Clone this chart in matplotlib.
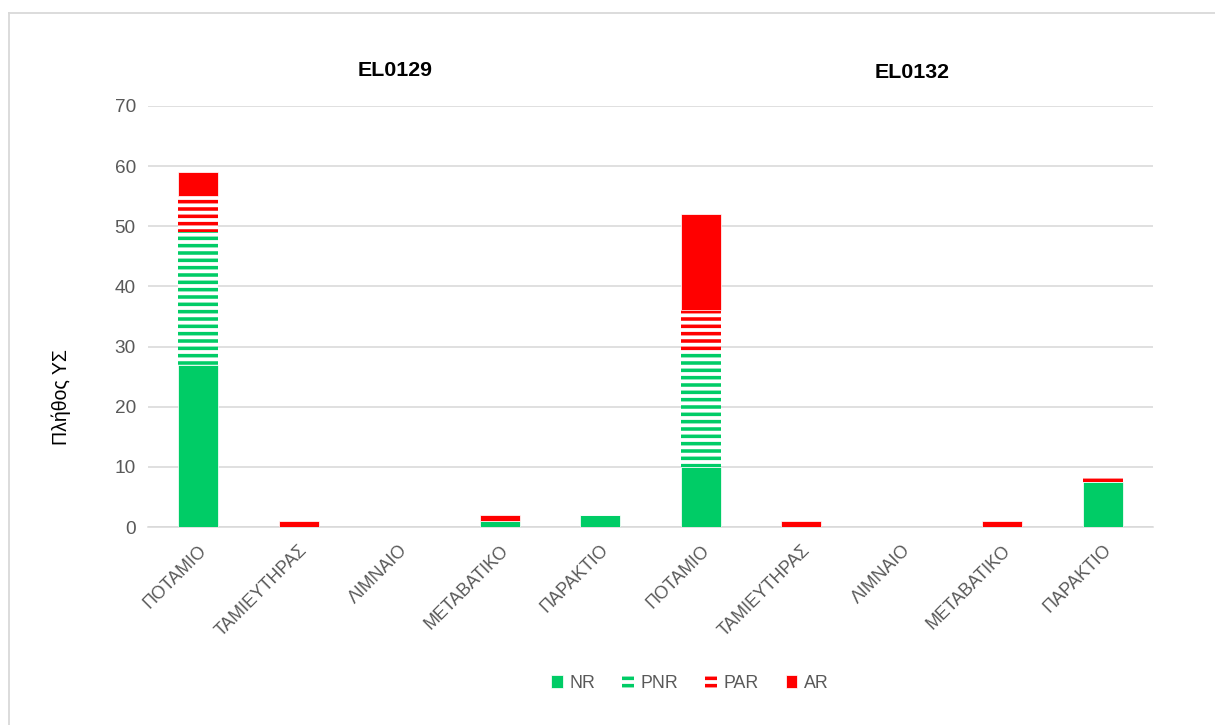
import matplotlib
matplotlib.use("Agg")
import matplotlib.pyplot as plt
import numpy as np
from matplotlib.lines import Line2D

# ---- data ----
categories = ['ΠΟΤΑΜΙΟ', 'ΤΑΜΙΕΥΤΗΡΑΣ', 'ΛΙΜΝΑΙΟ', 'ΜΕΤΑΒΑΤΙΚΟ', 'ΠΑΡΑΚΤΙΟ',
              'ΠΟΤΑΜΙΟ', 'ΤΑΜΙΕΥΤΗΡΑΣ', 'ΛΙΜΝΑΙΟ', 'ΜΕΤΑΒΑΤΙΚΟ', 'ΠΑΡΑΚΤΙΟ']
nr = [27, 0, 0, 1, 2, 10, 0, 0, 0, 7.5]
pnr = [22, 0, 0, 0, 0, 19, 0, 0, 0, 0]
par = [6, 0, 0, 0, 0, 7, 0, 0, 0, 1]
ar = [4, 1, 0, 1, 0, 16, 1, 0, 1, 0]
group_titles = ['EL0129', 'EL0132']
series_names = ['NR', 'PNR', 'PAR', 'AR']
y_ticks = [0, 10, 20, 30, 40, 50, 60, 70]
y_label = 'Πλήθος ΥΣ'

GREEN = '#00CC66'
RED = '#FF0000'
GRID = '#D9D9D9'
TXT = '#595959'

DPI = 88
W, H = 1215, 725
plt.rcParams['font.family'] = ['Liberation Sans', 'DejaVu Sans']
plt.rcParams['hatch.linewidth'] = 2.9

fig = plt.figure(figsize=(W / DPI, H / DPI), dpi=DPI)
ax = fig.add_axes([148 / W, 1 - 527 / H, (1153 - 148) / W, (527 - 106) / H])

x = np.arange(len(categories))
nr_a, pnr_a, par_a, ar_a = map(np.array, (nr, pnr, par, ar))
bw = 0.4

b1 = ax.bar(x, nr_a, bw, color=GREEN, edgecolor='white', linewidth=0.6, label=series_names[0], zorder=3)
b2 = ax.bar(x, pnr_a, bw, bottom=nr_a, facecolor='white', edgecolor=GREEN, linewidth=0,
            hatch='--', label=series_names[1], zorder=3)
b3 = ax.bar(x, par_a, bw, bottom=nr_a + pnr_a, facecolor='white', edgecolor=RED, linewidth=0,
            hatch='--', label=series_names[2], zorder=3)
b4 = ax.bar(x, ar_a, bw, bottom=nr_a + pnr_a + par_a, color=RED, edgecolor='white', linewidth=0.6,
            label=series_names[3], zorder=3)

ax.set_xlim(-0.5, len(categories) - 0.5)
ax.set_ylim(0, 70)
ax.set_yticks(y_ticks)
ax.yaxis.grid(True, color=GRID, linewidth=1.3, zorder=0)
ax.set_axisbelow(True)
for s in ['top', 'right', 'left']:
    ax.spines[s].set_visible(False)
ax.spines['bottom'].set_color(GRID)
ax.spines['bottom'].set_linewidth(1.3)
ax.tick_params(axis='both', length=0, colors=TXT)
ax.tick_params(axis='y', labelsize=15.5, pad=10)
ax.set_xticks(x)
ax.set_xticklabels(categories, rotation=45, ha='right', rotation_mode='anchor', fontsize=14.5, color=TXT)
ax.tick_params(axis='x', pad=12)

fig.text(61 / W, 1 - 397 / H, y_label, rotation=90, ha='center', va='center',
         fontsize=16, color='black', fontweight='medium')

fig.text(395 / W, 1 - 70 / H, group_titles[0], ha='center', va='center', fontsize=17.5,
         fontweight='bold', color='black')
fig.text(912 / W, 1 - 72 / H, group_titles[1], ha='center', va='center', fontsize=17.5,
         fontweight='bold', color='black')

leg = fig.legend(handles=[b1, b2, b3, b4], labels=series_names, loc='center',
                 bbox_to_anchor=(690 / W, 1 - 683 / H), ncol=4, frameon=False,
                 fontsize=14.5, handlelength=0.65, handleheight=0.7, handletextpad=0.4,
                 columnspacing=1.5)
for t in leg.get_texts():
    t.set_color(TXT)

# chart area border (top and left visible)
fig.add_artist(Line2D([9 / W, 1.0], [1 - 13 / H, 1 - 13 / H], transform=fig.transFigure,
                      color=GRID, linewidth=1.5))
fig.add_artist(Line2D([9 / W, 9 / W], [0, 1 - 13 / H], transform=fig.transFigure,
                      color=GRID, linewidth=1.5))

fig.savefig('out.png', dpi=DPI, facecolor='white')
